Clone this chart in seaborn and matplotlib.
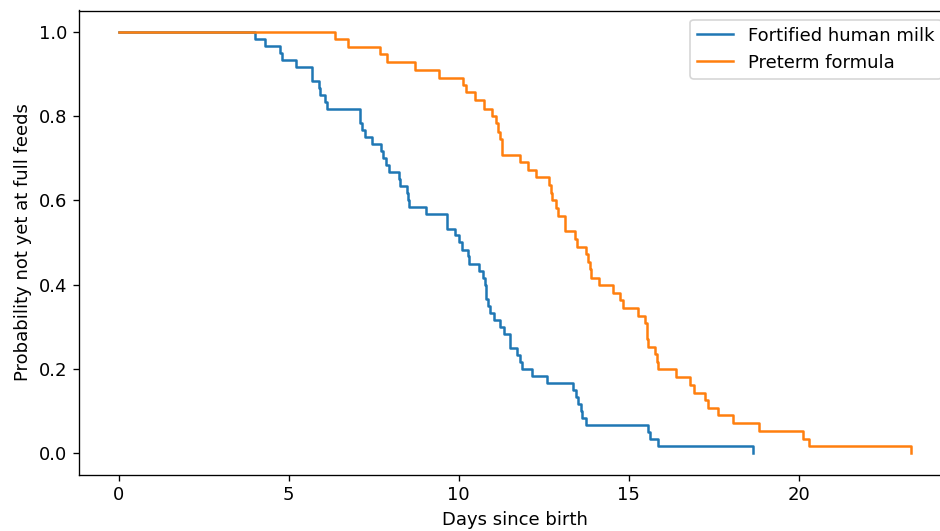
import numpy as np
import pandas as pd
import matplotlib
matplotlib.use("Agg")
import matplotlib.pyplot as plt
import seaborn as sns

# Kaplan-Meier style step curves
milk_days = [0, 4.0, 4.29, 4.74, 4.79, 5.22, 5.69, 5.89, 5.93, 6.08, 6.13,
             7.09, 7.16, 7.24, 7.46, 7.72, 7.77, 7.85, 7.95, 8.24, 8.26,
             8.48, 8.51, 8.54, 9.04, 9.64, 9.88, 10.01, 10.08, 10.27, 10.30,
             10.60, 10.70, 10.76, 10.79, 10.86, 10.91, 11.03, 11.21, 11.32,
             11.50, 11.72, 11.79, 11.86, 12.15, 12.59, 13.36, 13.44, 13.51,
             13.58, 13.61, 13.74, 15.55, 15.62, 15.86, 18.66]
milk_surv = [1.0, 0.983, 0.967, 0.95, 0.933, 0.917, 0.883, 0.867, 0.85, 0.833, 0.817,
             0.783, 0.767, 0.75, 0.733, 0.717, 0.70, 0.683, 0.667, 0.65, 0.633,
             0.617, 0.60, 0.583, 0.567, 0.533, 0.517, 0.50, 0.483, 0.467, 0.45,
             0.433, 0.417, 0.40, 0.367, 0.35, 0.333, 0.317, 0.30, 0.283,
             0.25, 0.233, 0.217, 0.20, 0.183, 0.167, 0.15, 0.133, 0.117,
             0.10, 0.083, 0.067, 0.05, 0.033, 0.017, 0.0]

formula_days = [0, 6.37, 6.73, 7.67, 7.88, 8.70, 9.42, 10.13, 10.21, 10.49, 10.74,
                10.98, 11.08, 11.14, 11.21, 11.26, 11.28, 11.79, 12.04, 12.28,
                12.65, 12.70, 12.74, 12.87, 12.92, 13.12, 13.41, 13.48, 13.74,
                13.80, 13.85, 13.90, 14.13, 14.54, 14.74, 14.83, 15.27, 15.47,
                15.52, 15.57, 15.76, 15.83, 15.86, 16.38, 16.79, 16.91, 17.25,
                17.33, 17.63, 18.07, 18.82, 20.13, 20.29, 23.29]
formula_surv = [1.0, 0.983, 0.964, 0.946, 0.928, 0.91, 0.891, 0.874, 0.857, 0.837, 0.817,
                0.799, 0.783, 0.763, 0.745, 0.728, 0.708, 0.69, 0.672, 0.655,
                0.637, 0.618, 0.60, 0.581, 0.563, 0.527, 0.508, 0.49, 0.473,
                0.454, 0.436, 0.417, 0.399, 0.381, 0.363, 0.345, 0.326, 0.308,
                0.272, 0.252, 0.235, 0.217, 0.199, 0.181, 0.163, 0.144, 0.126,
                0.108, 0.09, 0.072, 0.053, 0.035, 0.017, 0.0]

groups = ["Fortified human milk", "Preterm formula"]
colors = ["#1f77b4", "#ff7f0e"]

df = pd.concat([
    pd.DataFrame({"day": milk_days, "surv": milk_surv, "group": groups[0]}),
    pd.DataFrame({"day": formula_days, "surv": formula_surv, "group": groups[1]}),
], ignore_index=True)

plt.rcParams["font.size"] = 10.8
plt.rcParams["legend.fontsize"] = 10.8

dpi = 120
fig = plt.figure(figsize=(940 / dpi, 531 / dpi), dpi=dpi)
ax = fig.add_axes([79 / 940, 1 - 474.5 / 531, (950.5 - 79) / 940, (474.5 - 10.5) / 531])

sns.lineplot(data=df, x="day", y="surv", hue="group", hue_order=groups,
             palette=colors, estimator=None, drawstyle="steps-post",
             linewidth=1.5, ax=ax)

ax.set_xlabel("Days since birth")
ax.set_ylabel("Probability not yet at full feeds")
ax.set_xticks([0, 5, 10, 15, 20])
ax.set_yticks([0.0, 0.2, 0.4, 0.6, 0.8, 1.0])
ax.set_xlim(-1.1645, 24.4545)
ax.set_ylim(-0.05, 1.05)

handles, labels = ax.get_legend_handles_labels()
ax.legend(handles, labels, loc="upper right")

fig.savefig("out.png", dpi=dpi)
